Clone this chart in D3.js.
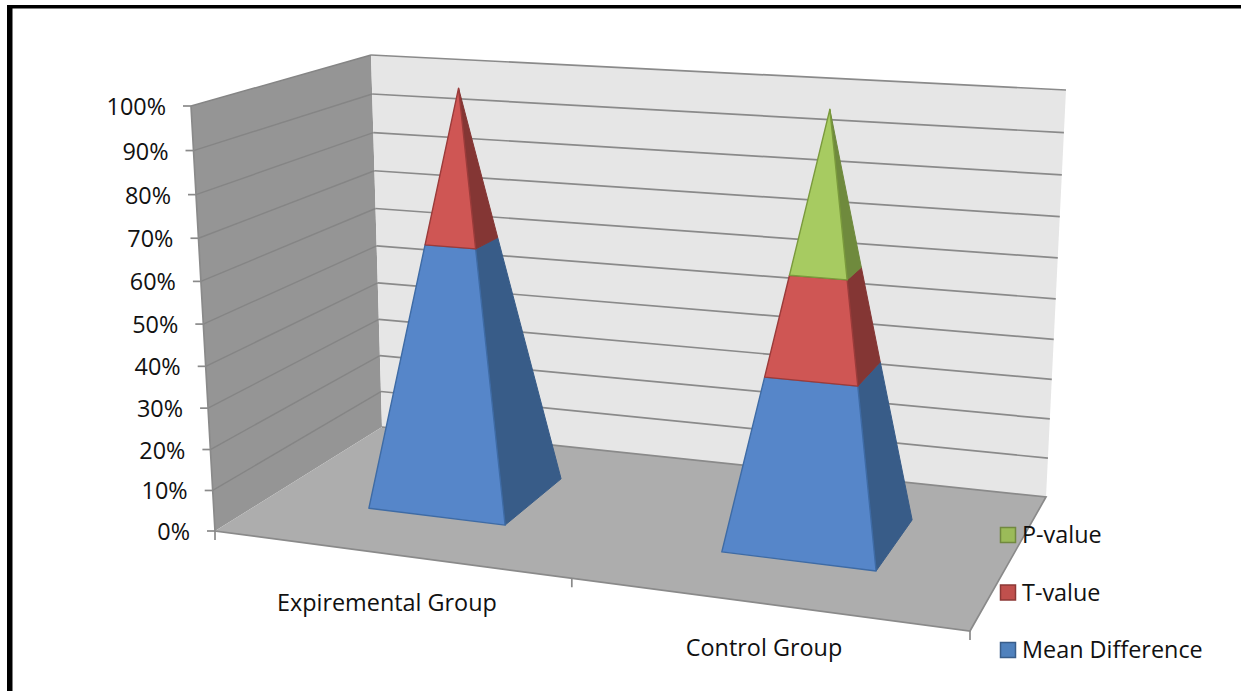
<!DOCTYPE html>
<html>
<head>
<meta charset="utf-8">
<script src="https://d3js.org/d3.v7.min.js"></script>
<style>
    html, body { margin: 0; padding: 0; background: #fff; }
    svg { display: block; }
    text { font-family: "Open Sans", sans-serif; fill: #111; }
</style>
</head>
<body>
<svg id="chart" width="1241" height="691"></svg>
<script>
    // values (percent of each stack)
    const categories = ["Expiremental Group", "Control Group"];
    const seriesNames = ["Mean Difference", "T-value", "P-value"];
    const meanDifference = [63.5, 40.3];
    const tValue = [36.5, 23];
    const pValue = [0, 36.7];
    const pctTicks = [0, 10, 20, 30, 40, 50, 60, 70, 80, 90, 100];

    const seriesValues = [meanDifference, tValue, pValue];
    const frontFill = ["#5686c9", "#cf5654", "#a7cb61"];
    const sideFill = ["#385c88", "#843634", "#6f8a3d"];
    const edgeColor = ["#3e6ba5", "#9b3b3a", "#7a9a3c"];
    const legendFill = ["#4f81bd", "#c0504d", "#9bbb59"];
    const legendEdge = ["#385d8a", "#8c3836", "#71893f"];

    const svg = d3.select("#chart");

    // the frame of the pasted picture
    svg.append("rect").attr("x", 7).attr("y", 5).attr("width", 1241).attr("height", 700).attr("fill", "#000");
    svg.append("rect").attr("x", 12.5).attr("y", 8.5).attr("width", 1241).attr("height", 700).attr("fill", "#fff");

    // box corners on screen: front/back, left/right, floor/top
    const front = { left: { floor: [215, 531], top: [191, 106] }, right: { floor: [970, 631], top: [993, 156] } };
    const back = { left: { floor: [382, 427], top: [371, 55] }, right: { floor: [1046, 497], top: [1066, 90] } };

    // % axis is a little wider towards the top, perspective
    const warp = 1.054;
    const pct = d3.scaleLinear().domain([0, 100]).range([0, 1]);
    const heightAt = v => { const t = pct(v); return t / (t + (1 - t) * warp); };

    // u along the category axis, v in percent, w into the depth
    function project(u, v, w) {
        const h = heightAt(v);
        const side = s => d3.interpolate(s.floor, s.top)(h);
        const f = d3.interpolate(side(front.left), side(front.right))(u);
        const b = d3.interpolate(side(back.left), side(back.right))(u);
        return d3.interpolate(f, b)(w);
    }

    // pyramid footprints on the floor
    const bases = [
        { u0: 0.135, u1: 0.323, w0: 0.336, w1: 0.743 },
        { u0: 0.622, u1: 0.835, w0: 0.337, w1: 0.733 }
    ];
    const labelDrop = [49, 44];
    const midTick = 0.4726;

    const line = d3.line();
    const poly = pts => line(pts) + "Z";

    const walls = svg.append("g");
    walls.append("path")
        .attr("d", poly([project(0, 0, 0), project(0, 100, 0), project(0, 100, 1), project(0, 0, 1)]))
        .attr("fill", "#959595");
    walls.append("path")
        .attr("d", poly([project(0, 0, 1), project(0, 100, 1), project(1, 100, 1), project(1, 0, 1)]))
        .attr("fill", "#e6e6e6");

    // gridlines, back wall then side wall
    walls.selectAll("line.back").data(pctTicks.filter(d => d > 0)).join("line")
        .attr("class", "back")
        .attr("x1", d => project(0, d, 1)[0]).attr("y1", d => project(0, d, 1)[1])
        .attr("x2", d => project(1, d, 1)[0]).attr("y2", d => project(1, d, 1)[1])
        .attr("stroke", "#8a8a8a").attr("stroke-width", 1.7);
    walls.selectAll("line.side").data(pctTicks.filter(d => d > 0)).join("line")
        .attr("class", "side")
        .attr("x1", d => project(0, d, 0)[0]).attr("y1", d => project(0, d, 0)[1])
        .attr("x2", d => project(0, d, 1)[0]).attr("y2", d => project(0, d, 1)[1])
        .attr("stroke", "#858585").attr("stroke-width", 1.4);

    svg.append("path")
        .attr("d", poly([project(0, 0, 0), project(1, 0, 0), project(1, 0, 1), project(0, 0, 1)]))
        .attr("fill", "#adadad");
    svg.append("path")
        .attr("d", line([project(0, 0, 1), project(1, 0, 1), project(1, 0, 0), project(0, 0, 0), project(0, 100, 0)]))
        .attr("fill", "none").attr("stroke", "#8a8a8a").attr("stroke-width", 1.7);

    // % axis
    const yAxis = svg.append("g");
    const tick = yAxis.selectAll("g").data(pctTicks).join("g")
        .attr("transform", d => "translate(" + project(0, d, 0) + ")");
    tick.append("line").attr("x1", -8).attr("x2", 0).attr("stroke", "#8a8a8a").attr("stroke-width", 1.7);
    tick.append("text")
        .attr("x", -25).attr("y", 9)
        .attr("text-anchor", "end")
        .attr("font-size", 23.4)
        .text(d => d + "%");

    // category axis ticks
    svg.selectAll("line.xtick").data([0, midTick, 1]).join("line")
        .attr("class", "xtick")
        .attr("x1", d => project(d, 0, 0)[0]).attr("y1", d => project(d, 0, 0)[1])
        .attr("x2", d => project(d, 0, 0)[0]).attr("y2", d => project(d, 0, 0)[1] + 9)
        .attr("stroke", "#8a8a8a").attr("stroke-width", 1.7);

    svg.selectAll("text.cat").data(categories).join("text")
        .attr("class", "cat")
        .attr("x", (d, i) => project((bases[i].u0 + bases[i].u1) / 2, 0, 0)[0] - 1)
        .attr("y", (d, i) => project((bases[i].u0 + bases[i].u1) / 2, 0, 0)[1] + labelDrop[i] + 8)
        .attr("text-anchor", "middle")
        .attr("font-size", 23.4)
        .text(d => d);

    // pyramids, one stacked segment at a time
    categories.forEach((cat, i) => {
        const b = bases[i];
        const cu = (b.u0 + b.u1) / 2;
        const cw = (b.w0 + b.w1) / 2;
        // a footprint corner pulled towards the axis of the pyramid at height v
        const corner = (u, w, v) => {
            const k = 1 - v / 100;
            return project(cu + (u - cu) * k, v, cw + (w - cw) * k);
        };
        let low = 0;
        seriesValues.forEach((vals, s) => {
            const high = low + vals[i];
            if (vals[i] > 0) {
                svg.append("path")
                    .attr("d", poly([corner(b.u1, b.w0, low), corner(b.u1, b.w1, low), corner(b.u1, b.w1, high), corner(b.u1, b.w0, high)]))
                    .attr("fill", sideFill[s]).attr("stroke", sideFill[s]).attr("stroke-width", 1);
                svg.append("path")
                    .attr("d", poly([corner(b.u0, b.w0, low), corner(b.u1, b.w0, low), corner(b.u1, b.w0, high), corner(b.u0, b.w0, high)]))
                    .attr("fill", frontFill[s]).attr("stroke", edgeColor[s]).attr("stroke-width", 1.4).attr("stroke-linejoin", "round");
            }
            low = high;
        });
    });

    // legend, top entry is the last series
    const legendY = d3.scalePoint().domain(seriesNames).range([650, 535]);
    const legend = svg.selectAll("g.legend").data(seriesNames).join("g")
        .attr("class", "legend")
        .attr("transform", d => "translate(1000," + legendY(d) + ")");
    legend.append("rect")
        .attr("x", 0.5).attr("y", -7.5).attr("width", 15).attr("height", 15)
        .attr("fill", (d, i) => legendFill[i])
        .attr("stroke", (d, i) => legendEdge[i])
        .attr("stroke-width", 1.5);
    legend.append("text")
        .attr("x", 22).attr("y", 8)
        .attr("font-size", 23.4)
        .text(d => d);
</script>
</body>
</html>
